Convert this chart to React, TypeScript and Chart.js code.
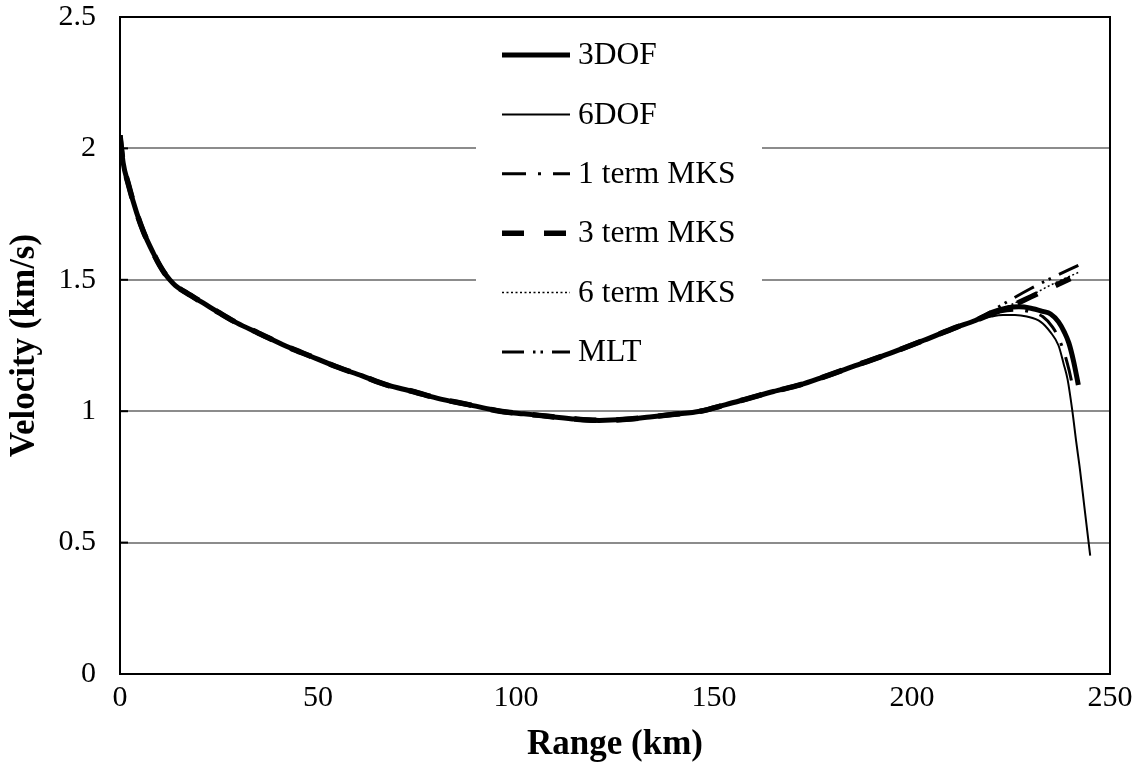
import React, { useEffect, useRef } from "react";
import { Chart, registerables } from "chart.js";
Chart.register(...registerables);

// Shared trajectory (all models coincide up to ~216 km)
const baseRange = [0, 0.8, 2, 4.2, 6, 8.4, 10.1, 11.5, 12.6, 14, 16.8, 21, 25, 29.5, 35, 42, 48, 54.7, 61, 67.3, 74, 80, 88, 96, 102, 108.6, 115, 121, 127, 133.8, 140, 146.5, 153, 159, 165, 171.7, 177.6, 185, 194.4, 203, 211.3, 216];
const baseVelocity = [2.05, 1.945, 1.87, 1.755, 1.68, 1.602, 1.553, 1.52, 1.5, 1.478, 1.45, 1.412, 1.375, 1.336, 1.297, 1.247, 1.21, 1.169, 1.135, 1.1, 1.075, 1.05, 1.025, 1.0, 0.99, 0.98, 0.97, 0.965, 0.968, 0.978, 0.988, 1.0, 1.025, 1.05, 1.075, 1.1, 1.13, 1.17, 1.22, 1.27, 1.32, 1.345];

// Terminal portions of each model
const dof3Range = [220, 224, 227, 230, 233, 235, 237, 238.5, 239.6, 240.8, 242];
const dof3Velocity = [1.375, 1.393, 1.397, 1.392, 1.38, 1.37, 1.34, 1.3, 1.26, 1.19, 1.1];

const dof6Range = [220, 223, 226, 229, 232.5, 235, 237, 238.3, 239.3, 240.5, 241.5, 242.4, 243.5, 245];
const dof6Velocity = [1.36, 1.366, 1.366, 1.36, 1.34, 1.3, 1.25, 1.18, 1.12, 1.0, 0.88, 0.78, 0.64, 0.45];

const mks1Range = [220, 224, 227, 230, 233, 235.5, 237, 238.5, 239.6, 240.5];
const mks1Velocity = [1.37, 1.382, 1.385, 1.377, 1.36, 1.32, 1.28, 1.22, 1.16, 1.1];

const mks3Range = [220, 225, 230, 235, 240];
const mks3Velocity = [1.37, 1.4, 1.435, 1.47, 1.505];

const mks6Range = [220, 225, 230, 235, 242.3];
const mks6Velocity = [1.37, 1.405, 1.44, 1.48, 1.53];

const mltRange = [220, 225, 230, 235, 242];
const mltVelocity = [1.38, 1.425, 1.467, 1.505, 1.555];

const seriesLabels = ["3DOF", "6DOF", "1 term MKS", "3 term MKS", "6 term MKS", "MLT"];
const xTicks = [0, 50, 100, 150, 200, 250];
const yTicks = [0, 0.5, 1, 1.5, 2, 2.5];

const FONT = '"Liberation Serif", "Times New Roman", serif';

function buildPoints(tailR: number[], tailV: number[]) {
  const pts = baseRange.map((x, i) => ({ x, y: baseVelocity[i] }));
  tailR.forEach((x, i) => pts.push({ x, y: tailV[i] }));
  return pts;
}

const boxLegend = {
  id: "boxLegend",
  afterDatasetsDraw(chart: any) {
    const ctx = chart.ctx;
    const a = chart.chartArea;
    ctx.save();
    ctx.fillStyle = "#ffffff";
    ctx.fillRect(a.left + 356, a.top + 7, 286, 358);
    chart.data.datasets.forEach((ds: any, i: number) => {
      const y = a.top + 38 + i * 59.4;
      const x0 = a.left + 382;
      ctx.beginPath();
      ctx.setLineDash(ds.borderDash || []);
      ctx.lineWidth = ds.borderWidth;
      ctx.strokeStyle = ds.borderColor;
      ctx.lineCap = "butt";
      ctx.moveTo(x0, y);
      ctx.lineTo(x0 + 68, y);
      ctx.stroke();
      ctx.setLineDash([]);
      ctx.fillStyle = "#000";
      ctx.font = `31.5px ${FONT}`;
      ctx.textBaseline = "middle";
      ctx.textAlign = "left";
      ctx.fillText(ds.label, x0 + 76, y + 1);
    });
    ctx.restore();
  },
};

const frame = {
  id: "frame",
  afterDraw(chart: any) {
    const ctx = chart.ctx;
    const a = chart.chartArea;
    const ys = chart.scales.y;
    ctx.save();
    ctx.strokeStyle = "#000";
    ctx.lineWidth = 2;
    ctx.setLineDash([]);
    ctx.strokeRect(a.left, a.top, a.right - a.left, a.bottom - a.top);
    ys.ticks.forEach((t: any) => {
      const py = ys.getPixelForValue(t.value);
      ctx.beginPath();
      ctx.moveTo(a.left, py);
      ctx.lineTo(a.left + 8, py);
      ctx.stroke();
    });
    ctx.restore();
  },
};

export default function App() {
  const ref = useRef<HTMLCanvasElement | null>(null);
  useEffect(() => {
    document.body.style.margin = "0";
    const styles = [
      { w: 5, dash: [] as number[] },
      { w: 2, dash: [] as number[] },
      { w: 3, dash: [24, 12, 3, 12] },
      { w: 5.5, dash: [22, 20] },
      { w: 1.5, dash: [2, 2.5] },
      { w: 3, dash: [22, 9, 2.5, 5, 2.5, 9] },
    ];
    const tails: [number[], number[]][] = [
      [dof3Range, dof3Velocity],
      [dof6Range, dof6Velocity],
      [mks1Range, mks1Velocity],
      [mks3Range, mks3Velocity],
      [mks6Range, mks6Velocity],
      [mltRange, mltVelocity],
    ];
    const datasets = seriesLabels.map((label, i) => ({
      label,
      data: buildPoints(tails[i][0], tails[i][1]),
      borderColor: "#000",
      backgroundColor: "#000",
      borderWidth: styles[i].w,
      borderDash: styles[i].dash,
      pointRadius: 0,
      fill: false,
      cubicInterpolationMode: "monotone" as const,
    }));
    const chart = new Chart(ref.current as HTMLCanvasElement, {
      type: "line",
      data: { datasets },
      options: {
        animation: false,
        responsive: false,
        devicePixelRatio: 1,
        layout: { padding: { left: 0, right: 38, top: 17, bottom: 0 } },
        plugins: { legend: { display: false }, tooltip: { enabled: false } },
        scales: {
          x: {
            type: "linear",
            min: 0,
            max: 250,
            afterBuildTicks: (s: any) => {
              s.ticks = xTicks.map((v) => ({ value: v }));
            },
            afterFit: (s: any) => {
              s.height = 95;
              s.paddingLeft = 0;
              s.paddingRight = 0;
            },
            grid: { display: false, drawTicks: false },
            border: { display: false },
            ticks: { color: "#000", font: { family: FONT, size: 30 }, padding: 6, maxRotation: 0, callback: (v: any) => String(v) },
            title: {
              display: true,
              text: "Range (km)",
              color: "#000",
              font: { family: FONT, size: 35, weight: "bold" },
              padding: { top: 0, bottom: 3 },
            },
          },
          y: {
            type: "linear",
            min: 0,
            max: 2.5,
            afterBuildTicks: (s: any) => {
              s.ticks = yTicks.map((v) => ({ value: v }));
            },
            afterFit: (s: any) => {
              s.width = 120;
              s.paddingTop = 0;
              s.paddingBottom = 0;
            },
            grid: {
              color: (c: any) => (c.tick && (c.tick.value === 0 || c.tick.value === 2.5) ? "rgba(0,0,0,0)" : "#8c8c8c"),
              lineWidth: 2,
              drawTicks: false,
            },
            border: { display: false },
            ticks: { color: "#000", font: { family: FONT, size: 30 }, padding: 24, callback: (v: any) => String(v) },
            title: {
              display: true,
              text: "Velocity (km/s)",
              color: "#000",
              font: { family: FONT, size: 35, weight: "bold" },
              padding: { top: 4, bottom: 0 },
            },
          },
        },
      },
      plugins: [boxLegend, frame],
    });
    return () => chart.destroy();
  }, []);
  return <canvas ref={ref} width={1148} height={769} style={{ display: "block" }} />;
}
